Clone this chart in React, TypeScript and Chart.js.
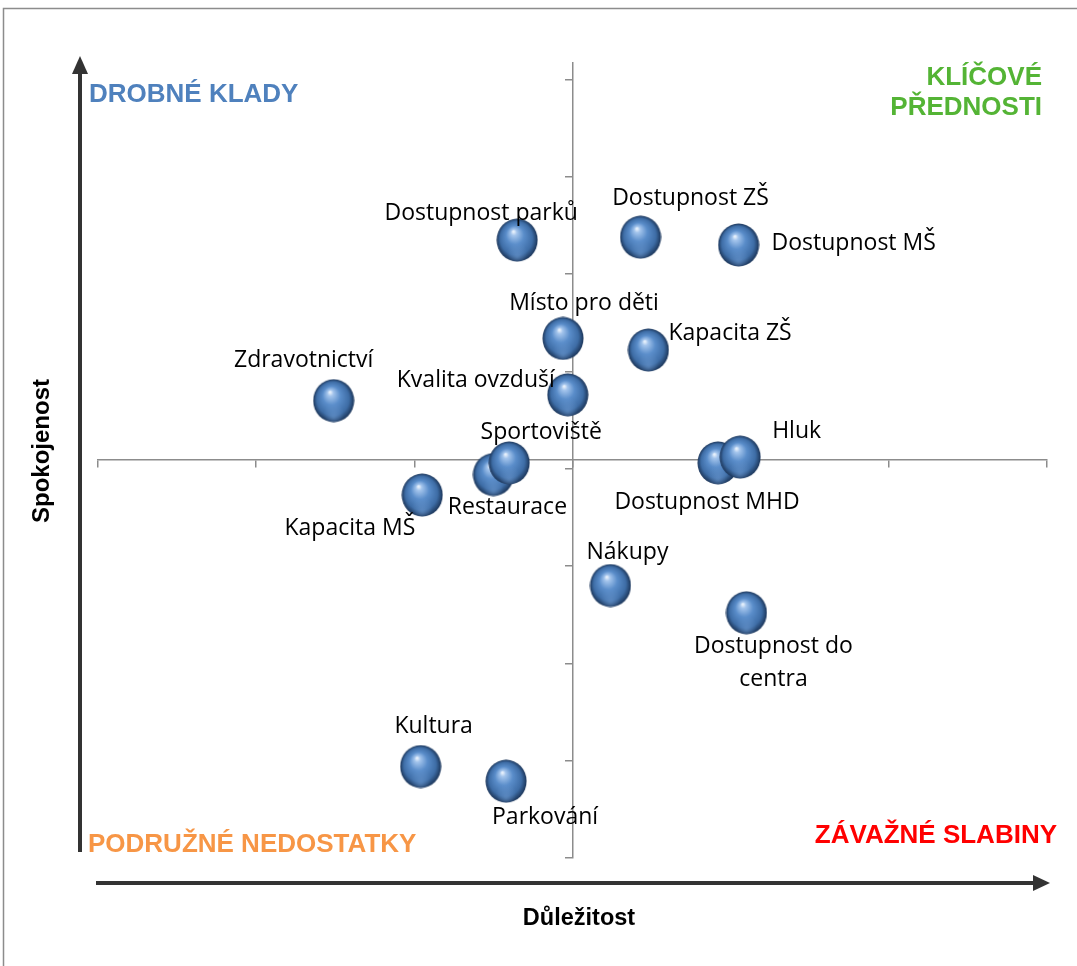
import { useEffect, useRef } from 'react';
import { Chart, registerables } from 'chart.js';

Chart.register(...registerables);

// ---- data (drawn back to front) ----
const itemNames = [
  'Dostupnost parků',
  'Dostupnost ZŠ',
  'Dostupnost MŠ',
  'Místo pro děti',
  'Kapacita ZŠ',
  'Zdravotnictví',
  'Kvalita ovzduší',
  'Restaurace',
  'Sportoviště',
  'Kapacita MŠ',
  'Dostupnost MHD',
  'Hluk',
  'Nákupy',
  'Dostupnost do centra',
  'Kultura',
  'Parkování',
];
// Důležitost (x)
const importance = [2.65, 3.43, 4.05, 2.94, 3.48, 1.49, 2.97, 2.5, 2.6, 2.05, 3.92, 4.06, 3.24, 4.1, 2.04, 2.58];
// Spokojenost (y)
const satisfaction = [6.35, 6.38, 6.3, 5.34, 5.22, 4.7, 4.76, 3.94, 4.06, 3.73, 4.06, 4.12, 2.8, 2.52, 0.94, 0.79];

// axis ranges
const xMin = 0;
const xMax = 6;
const yMin = 0;
const yMax = 8.17;
const xCross = 3; // where the vertical axis crosses
const yCross = 4.09; // where the horizontal axis crosses

// label texts split into lines
const labelLines: string[][] = itemNames.map((n) =>
  n === 'Dostupnost do centra' ? ['Dostupnost do', 'centra'] : [n]
);

// label placement relative to the point (style, not data)
const labelPlacement: { dx: number; dy: number; align: CanvasTextAlign }[] = [
  { dx: -36, dy: -27, align: 'center' },
  { dx: 50, dy: -39, align: 'center' },
  { dx: 33, dy: -2, align: 'left' },
  { dx: 21, dy: -35, align: 'center' },
  { dx: 20, dy: -17, align: 'left' },
  { dx: -30, dy: -40, align: 'center' },
  { dx: -13, dy: -14, align: 'right' },
  { dx: 14, dy: 33, align: 'center' },
  { dx: 32, dy: -30, align: 'center' },
  { dx: -7, dy: 33, align: 'right' },
  { dx: -11, dy: 40, align: 'center' },
  { dx: 32, dy: -26, align: 'left' },
  { dx: 17, dy: -33, align: 'center' },
  { dx: 27, dy: 34, align: 'center' },
  { dx: 13, dy: -40, align: 'center' },
  { dx: 39, dy: 36, align: 'center' },
];

const W = 1077;
const H = 966;

function makeSphere(w: number, h: number): HTMLCanvasElement {
  const c = document.createElement('canvas');
  c.width = w;
  c.height = h;
  const g = c.getContext('2d')!;
  g.save();
  g.translate(w / 2, h / 2);
  g.scale(1, h / w);
  const r = w / 2 - 0.5;
  const grad = g.createRadialGradient(-r * 0.18, -r * 0.4, r * 0.03, 0, 0, r);
  grad.addColorStop(0, '#E8F1FC');
  grad.addColorStop(0.12, '#A3C4EC');
  grad.addColorStop(0.42, '#5A8DCA');
  grad.addColorStop(0.78, '#3E6DA6');
  grad.addColorStop(1, '#1C365A');
  g.beginPath();
  g.arc(0, 0, r, 0, Math.PI * 2);
  g.fillStyle = grad;
  g.fill();
  const grad2 = g.createRadialGradient(0, r * 0.75, r * 0.05, 0, r * 0.6, r * 0.5);
  grad2.addColorStop(0, 'rgba(120,165,220,0.45)');
  grad2.addColorStop(1, 'rgba(120,165,220,0)');
  g.beginPath();
  g.arc(0, 0, r, 0, Math.PI * 2);
  g.fillStyle = grad2;
  g.fill();
  g.restore();
  return c;
}

const decorPlugin = {
  id: 'decor',
  beforeDraw(chart: any) {
    const ctx: CanvasRenderingContext2D = chart.ctx;
    ctx.save();
    ctx.fillStyle = '#ffffff';
    ctx.fillRect(0, 0, W, H);
    ctx.strokeStyle = '#8c8c8c';
    ctx.lineWidth = 1.5;
    ctx.strokeRect(3.5, 8.5, W + 20, H + 20);

    ctx.strokeStyle = '#333333';
    ctx.fillStyle = '#333333';
    ctx.lineWidth = 4;
    ctx.beginPath();
    ctx.moveTo(80, 852);
    ctx.lineTo(80, 70);
    ctx.stroke();
    ctx.beginPath();
    ctx.moveTo(80, 56);
    ctx.lineTo(72, 74);
    ctx.lineTo(88, 74);
    ctx.closePath();
    ctx.fill();

    ctx.beginPath();
    ctx.moveTo(96, 883);
    ctx.lineTo(1036, 883);
    ctx.stroke();
    ctx.beginPath();
    ctx.moveTo(1050, 883);
    ctx.lineTo(1033, 875);
    ctx.lineTo(1033, 891);
    ctx.closePath();
    ctx.fill();
    ctx.restore();
  },
  afterDraw(chart: any) {
    const ctx: CanvasRenderingContext2D = chart.ctx;
    ctx.save();
    ctx.textBaseline = 'middle';
    ctx.font = 'bold 26px "Liberation Sans", Arial, sans-serif';
    ctx.fillStyle = '#4F81BD';
    ctx.textAlign = 'left';
    ctx.fillText('DROBNÉ KLADY', 89, 95);
    ctx.fillStyle = '#54B435';
    ctx.textAlign = 'right';
    ctx.fillText('KLÍČOVÉ', 1042, 78);
    ctx.fillText('PŘEDNOSTI', 1042, 108);
    ctx.fillStyle = '#F79646';
    ctx.textAlign = 'left';
    ctx.fillText('PODRUŽNÉ NEDOSTATKY', 88, 845);
    ctx.fillStyle = '#FF0000';
    ctx.textAlign = 'right';
    ctx.fillText('ZÁVAŽNÉ SLABINY', 1057, 836);

    ctx.fillStyle = '#000000';
    ctx.font = 'bold 23.5px "Liberation Sans", Arial, sans-serif';
    ctx.textAlign = 'center';
    ctx.fillText('Důležitost', 579, 919);
    ctx.save();
    ctx.translate(42, 451);
    ctx.rotate(-Math.PI / 2);
    ctx.font = 'bold 24px "Liberation Sans", Arial, sans-serif';
    ctx.fillText('Spokojenost', 0, 0);
    ctx.restore();
    ctx.restore();
  },
};

const pointLabelPlugin = {
  id: 'pointLabels',
  afterDatasetsDraw(chart: any) {
    const ctx: CanvasRenderingContext2D = chart.ctx;
    const meta = chart.getDatasetMeta(0);
    ctx.save();
    ctx.font = '23px "Open Sans", "Noto Sans", sans-serif';
    ctx.fillStyle = '#000000';
    ctx.textBaseline = 'middle';
    meta.data.forEach((pt: any, i: number) => {
      const p = labelPlacement[i];
      ctx.textAlign = p.align;
      labelLines[i].forEach((line, k) => {
        ctx.fillText(line, pt.x + p.dx, pt.y + p.dy + k * 33);
      });
    });
    ctx.restore();
  },
};

export default function App() {
  const canvasRef = useRef<HTMLCanvasElement | null>(null);

  useEffect(() => {
    const canvas = canvasRef.current;
    if (!canvas) return;
    const sphere = makeSphere(42, 44);
    const axisColor = '#8c8c8c';
    const chart = new Chart(canvas, {
      type: 'scatter',
      data: {
        datasets: [
          {
            label: 'Položky',
            data: importance.map((x, i) => ({ x, y: satisfaction[i] })),
            pointStyle: sphere as any,
            pointRadius: 21,
            pointHoverRadius: 21,
          },
        ],
      },
      options: {
        animation: false,
        responsive: false,
        devicePixelRatio: 1,
        layout: { padding: { left: 98, right: 30, top: 63, bottom: 108 } },
        plugins: {
          legend: { display: false },
          tooltip: { enabled: false },
        },
        scales: {
          x: {
            type: 'linear',
            min: xMin,
            max: xMax,
            position: { y: yCross } as any,
            ticks: { display: false, stepSize: 1 },
            grid: { drawOnChartArea: false, drawTicks: true, tickLength: 7, color: axisColor, lineWidth: 1.5 },
            border: { display: true, color: axisColor, width: 1.5 },
          },
          y: {
            type: 'linear',
            min: yMin,
            max: yMax,
            position: { x: xCross } as any,
            ticks: { display: false, stepSize: 1, includeBounds: false },
            grid: { drawOnChartArea: false, drawTicks: true, tickLength: 7, color: axisColor, lineWidth: 1.5 },
            border: { display: true, color: axisColor, width: 1.5 },
          },
        },
      },
      plugins: [decorPlugin, pointLabelPlugin],
    });
    return () => chart.destroy();
  }, []);

  return (
    <div style={{ position: 'absolute', left: 0, top: 0, width: W, height: H, background: '#fff' }}>
      <canvas ref={canvasRef} width={W} height={H} style={{ display: 'block', width: W, height: H }} />
    </div>
  );
}
